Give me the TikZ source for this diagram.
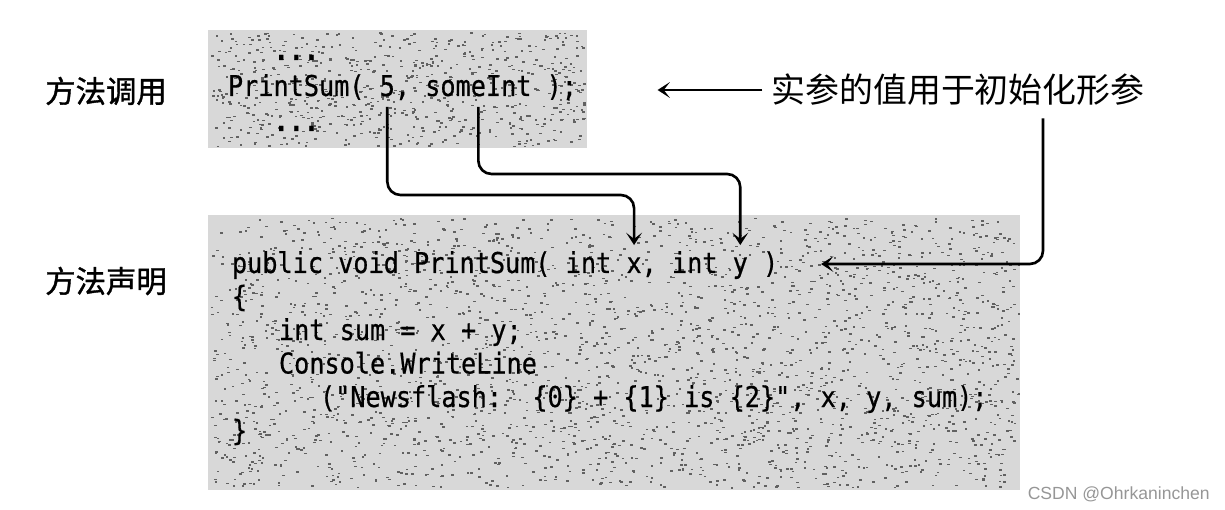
\documentclass[tikz,border=0pt]{standalone}
\usepackage{fontspec}
\setmonofont{DejaVu Sans Mono}[FakeStretch=0.88,FakeBold=0.6]
\newfontfamily\cjk{Noto Sans CJK SC}
\newfontfamily\cjktag{Noto Sans CJK SC}[FakeBold=1.2]
\newfontfamily\wmfont{Liberation Sans}
\usetikzlibrary{arrows.meta,calc}
\definecolor{speck}{RGB}{216,216,216}
\definecolor{wmgray}{RGB}{150,150,150}

\begin{document}
\begin{tikzpicture}[x=0.02cm,y=-0.02cm,
    code/.style={font=\ttfamily\fontsize{16.3}{18}\selectfont,inner sep=0pt,outer sep=0pt,anchor=base west},
    tag/.style={font=\cjktag\fontsize{17.3}{20}\selectfont,inner sep=0pt},
    note/.style={font=\cjk\fontsize{19.3}{22}\selectfont,inner sep=0pt},
    codebox/.style={fill=speck,inner sep=0pt},
    grain/.style={fill=black!62},
    link/.style={line width=1.5pt,rounded corners=7.5pt,-{Stealth[length=7pt,width=9pt,inset=3.5pt]}}]
  \useasboundingbox (0,0) rectangle (1225,510);
  \pgfmathsetseed{11}
  % speckled code panels
  \node[codebox,minimum width=7.58cm,minimum height=2.36cm] (callbox) at (397.5,89) {};
  \node[codebox,minimum width=16.24cm,minimum height=5.5cm] (declbox) at (614,352.5) {};
  \foreach \i in {1,...,700}
    \fill[grain] ($(callbox.center)+(187*rand,57*rand)$) rectangle ++(2.6,1.6);
  \foreach \i in {1,...,2600}
    \fill[grain] ($(declbox.center)+(404*rand,135*rand)$) rectangle ++(2.6,1.6);
  % left tags
  \node[tag] (tcall) at (106,91) {方法调用};
  \node[tag] (tdecl) at (106,281) {方法声明};
  % method call
  \node[code,font=\ttfamily\bfseries\fontsize{16.3}{18}\selectfont] (dots1) at (273.6,60) {...};
  \node[code] (c1) at (228,96) {PrintSum(\ \null};
  \node[code] (c5) at (c1.base east) {5};
  \node[code] (c2) at (c5.base east) {,\ \null};
  \node[code] (cint) at (c2.base east) {someInt};
  \node[code] (c3) at (cint.base east) {\ );};
  \node[code,font=\ttfamily\bfseries\fontsize{16.3}{18}\selectfont] (dots2) at (273.6,131) {...};
  % method declaration
  \node[code] (d1) at (232,273) {public void PrintSum(\ int\ \null};
  \node[code] (px) at (d1.base east) {x};
  \node[code] (d2) at (px.base east) {,\ int\ \null};
  \node[code] (py) at (d2.base east) {y};
  \node[code] (d3) at (py.base east) {\ )};
  \node[code] (l2) at (232,306.5) {\{};
  \node[code] (l3) at (279,340) {int sum = x + y;};
  \node[code] (l4) at (279,373.5) {Console.WriteLine};
  \node[code] (l5) at (320,407) {("Newsflash:\ \ \{0\} + \{1\} is \{2\}", x, y, sum);};
  \node[code] (l6) at (232,440.5) {\}};
  % note
  \node[note] (note) at (958,90) {实参的值用于初始化形参};
  \coordinate (lane5) at (0,195);
  \coordinate (laneint) at (0,174);
  \coordinate (rail) at (1043,0);
  % connectors
  \draw[link,shorten <=5pt,shorten >=40pt] (note.west) -- (note.west -| callbox.east);
  \draw[link,shorten <=6pt,shorten >=7pt] (c5.south) -- (c5.south |- lane5) -| (px.north);
  \draw[link,shorten <=6pt,shorten >=7pt] (cint.south) -- (cint.south |- laneint) -| (py.north);
  \draw[link,shorten <=7pt,shorten >=24.4pt] (note.south -| rail) |- (d3.east);
  % watermark
  \node[font=\wmfont\fontsize{10}{12}\selectfont,text=wmgray,anchor=east,inner sep=0pt] (wm) at (1210,494) {CSDN @Ohrkaninchen};
\end{tikzpicture}
\end{document}
